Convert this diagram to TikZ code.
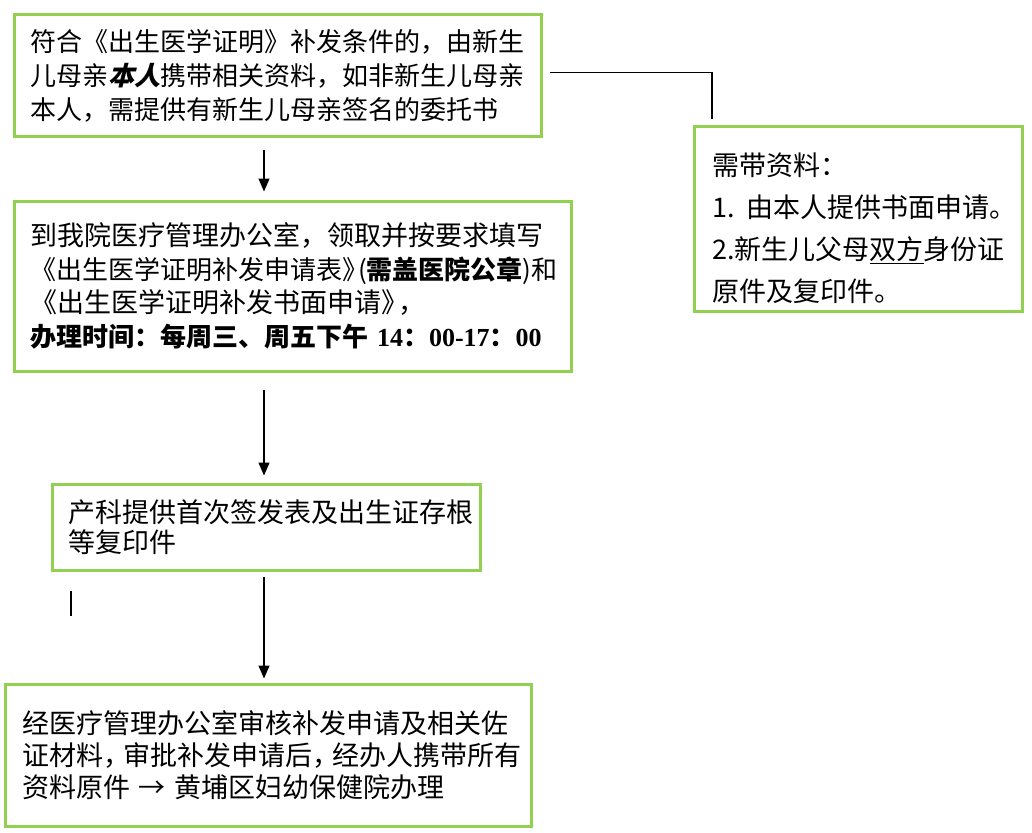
\documentclass[tikz,border=0pt]{standalone}
\usepackage{fontspec}
\setmainfont{Noto Sans CJK SC}
\newfontfamily\lserif{Liberation Serif}
\usetikzlibrary{arrows.meta}
\definecolor{boxgreen}{RGB}{146,208,80}
\begin{document}
\begin{tikzpicture}[x=1pt,y=-1pt,
  box/.style={draw=boxgreen,line width=3pt,rectangle,align=left,inner ysep=0pt,anchor=center},
  conn/.style={draw=black,line width=1.3pt},
  arr/.style={conn,-{Triangle[length=13pt,width=11pt]}}]
\useasboundingbox (0,0) rectangle (1032,832);
\coordinate (ax) at (264,0);
\coordinate (cx) at (712,0);

\node[box,minimum width=527pt,minimum height=121pt,text width=495pt,inner xsep=16pt,
      font=\fontsize{26}{34}\selectfont] (b1) at (277.5,75.5)
 {符合《出生医学证明》补发条件的，由新生\\
  儿母亲{\bfseries\addfontfeature{FakeSlant=0.25}本人}携带相关资料，如非新生儿母亲\\
  本人，需提供有新生儿母亲签名的委托书};

\node[box,minimum width=557pt,minimum height=170pt,text width=525pt,inner xsep=16pt,
      font=\fontsize{27}{33.5}\selectfont] (b2) at (292.5,286)
 {到我院医疗管理办公室，领取并按要求填写\\
  {\fontsize{26}{33.5}\selectfont《出生医学证明补发申请表》\kern-10pt({\bfseries 需盖医院公章})和}\\
  《出生医学证明补发书面申请》\kern-10pt，\\
  \mbox{\fontsize{26}{33.5}\selectfont\bfseries 办理时间：每周三、周五下午 {\lserif 14}：{\lserif 00-17}：{\lserif 00}}};

\node[box,minimum width=428pt,minimum height=86pt,text width=396pt,inner xsep=16pt,
      font=\fontsize{27}{30}\selectfont] (b3) at (266,527)
 {产科提供首次签发表及出生证存根\\
  等复印件};

\node[box,minimum width=526pt,minimum height=142pt,text width=492pt,inner xsep=17pt,
      font=\fontsize{27}{32}\selectfont] (b4) at (268,755)
 {经医疗管理办公室审核补发申请及相关佐\\
  证材料，\kern-7pt 审批补发申请后，\kern-7pt 经办人携带所有\\
  资料原件 → 黄埔区妇幼保健院办理};

\node[box,minimum width=328pt,minimum height=185pt] (rb) at (858,218.5) {};
\node[align=left,anchor=west,inner sep=0pt,font=\fontsize{27}{42}\selectfont] (rbt) at (712,228.5)
 {需带资料：\\
  1.\ \ 由本人提供书面申请。\\
  2.新生儿父母\underline{双方}身份证\\
  原件及复印件。};

\draw[arr,shorten <=12pt,shorten >=8pt] (b1.south -| ax) -- (b2.north -| ax);
\draw[arr,shorten <=17pt,shorten >=7pt] (b2.south -| ax) -- (b3.north -| ax);
\draw[arr,shorten <=5pt,shorten >=4pt] (b3.south -| ax) -- (b4.north -| ax);
\draw[conn,shorten <=7pt,shorten >=6pt] ([yshift=3pt]b1.east) -| (rb.north -| cx);

\coordinate (s1) at (71,591);
\coordinate (s2) at (71,616);
\draw[conn] (s1) -- (s2);
\end{tikzpicture}
\end{document}
